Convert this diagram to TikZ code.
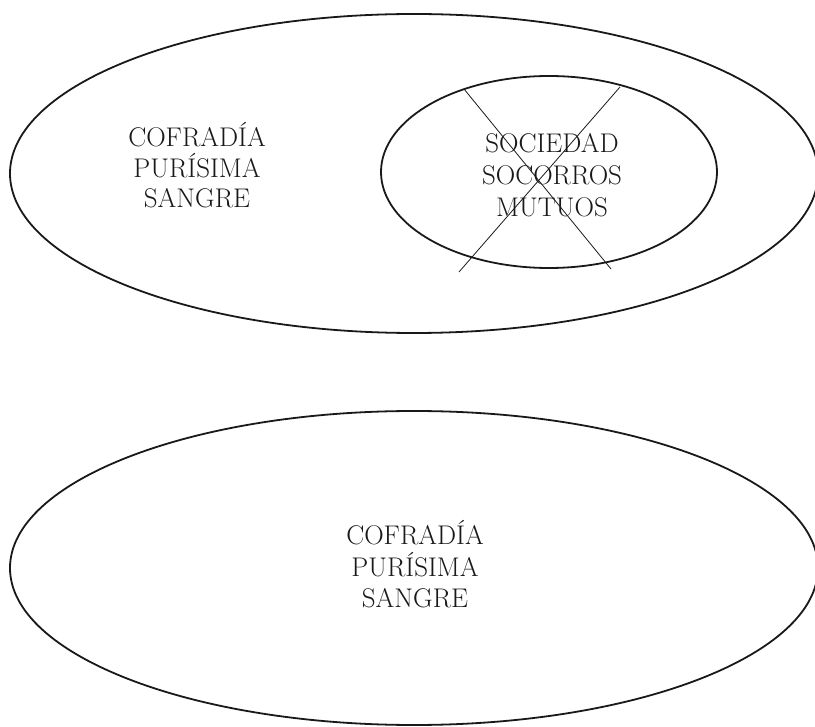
\documentclass[tikz,border=0pt]{standalone}
\begin{document}
\begin{tikzpicture}[x=1pt,y=-1pt,
  ring/.style={line width=1.8pt, draw=black!90},
  crossline/.style={line width=0.8pt, draw=black!90},
  label/.style={align=center, anchor=base, inner sep=0pt, text=black!90,
    font=\fontsize{27}{32}\selectfont}]
\useasboundingbox (0,0) rectangle (815,727);
% top diagram
\coordinate (outerTop) at (414,173.5);
\coordinate (inner) at (549,172);
\draw[ring] (outerTop) ellipse [x radius=404pt, y radius=159.5pt];
\draw[ring] (inner) ellipse [x radius=168pt, y radius=96pt];
\node[label, font=\fontsize{27}{30.5}\selectfont] (cofA) at (197,208) {COFRADÍA\\PURÍSIMA\\SANGRE};
\node[label] (soc) at (552,217) {SOCIEDAD\\SOCORROS\\MUTUOS};
\coordinate (xa1) at (464,89);
\coordinate (xa2) at (611,269);
\coordinate (xb1) at (620,87);
\coordinate (xb2) at (459,272);
\draw[crossline] (xa1) -- (xa2);
\draw[crossline] (xb1) -- (xb2);
% bottom diagram
\coordinate (outerBot) at (414,568);
\draw[ring] (outerBot) ellipse [x radius=404pt, y radius=157pt];
\node[label] (cofB) at (415,608) {COFRADÍA\\PURÍSIMA\\SANGRE};
\end{tikzpicture}
\end{document}
